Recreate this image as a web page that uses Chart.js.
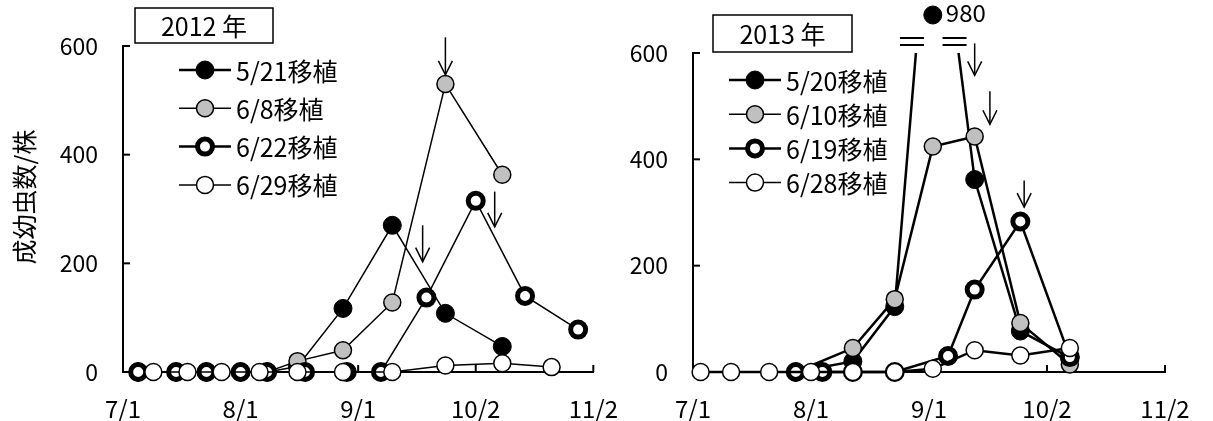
<!DOCTYPE html>
<html>
<head>
<meta charset="utf-8">
<script src="https://cdn.jsdelivr.net/npm/chart.js@4.4.0/dist/chart.umd.min.js"></script>
<style>
  body { margin: 0; background: #fff; width: 1213px; height: 421px; position: relative; overflow: hidden; }
  canvas { position: absolute; top: 0; }
  #c2012 { left: 0; }
  #c2013 { left: 600px; }
</style>
</head>
<body>
<canvas id="c2012" width="640" height="421"></canvas>
<canvas id="c2013" width="613" height="421"></canvas>
<script>
// axis
const tickDates = ['7/1', '8/1', '9/1', '10/2', '11/2'];
const yTicks = [0, 200, 400, 600];
const yTitle = '成幼虫数/株';

// 2012
const year2012 = '2012 年';
const labels2012 = ['5/21移植', '6/8移植', '6/22移植', '6/29移植'];
const dates2012_0521 = ['7/5', '7/15', '7/23', '8/1', '8/8', '8/16', '8/28', '9/10', '9/24', '10/9'];
const vals2012_0521 = [0, 0, 0, 0, 0, 10, 117, 270, 108, 47];
const dates2012_0608 = ['7/5', '7/15', '7/23', '8/1', '8/8', '8/16', '8/28', '9/10', '9/24', '10/9'];
const vals2012_0608 = [0, 0, 0, 0, 0, 20, 40, 128, 530, 363];
const dates2012_0622 = ['7/5', '7/15', '7/23', '8/1', '8/8', '8/18', '8/29', '9/7', '9/19', '10/2', '10/15', '10/29'];
const vals2012_0622 = [0, 0, 0, 0, 0, 0, 0, 0, 137, 315, 140, 78];
const dates2012_0629 = ['7/9', '7/18', '7/27', '8/6', '8/16', '8/28', '9/10', '9/24', '10/9', '10/22'];
const vals2012_0629 = [0, 0, 0, 0, 0, 0, 0, 12, 16, 9];
const arrows2012 = [
  { date: '9/24', from: 616, to: 547 },
  { date: '9/18', from: 270, to: 203 },
  { date: '10/7', from: 332, to: 267 }
];

// 2013
const year2013 = '2013 年';
const labels2013 = ['5/20移植', '6/10移植', '6/19移植', '6/28移植'];
const dates2013_0520 = ['7/28', '8/12', '8/23', '9/2', '9/13', '9/25', '10/8'];
const vals2013_0520 = [0, 20, 123, 980, 362, 77, 27];
const dates2013_0610 = ['7/28', '8/12', '8/23', '9/2', '9/13', '9/25', '10/8'];
const vals2013_0610 = [0, 45, 137, 424, 443, 92, 14];
const dates2013_0619 = ['7/28', '8/4', '8/12', '8/23', '9/6', '9/13', '9/25', '10/8'];
const vals2013_0619 = [0, 0, 0, 0, 30, 155, 283, 28];
const dates2013_0628 = ['7/3', '7/11', '7/21', '8/1', '8/12', '8/23', '9/2', '9/13', '9/25', '10/8'];
const vals2013_0628 = [0, 0, 0, 0, 0, 0, 6, 41, 31, 45];
const arrows2013 = [
  { date: '9/13', from: 618, to: 558 },
  { date: '9/17', from: 528, to: 466 },
  { date: '9/26', from: 360, to: 310 }
];

const FONT = "'Noto Sans CJK JP', 'Noto Sans', sans-serif";
Chart.defaults.font.family = FONT;
Chart.defaults.color = '#000';

// days since 7/1
function dayOf(s) {
  const [m, d] = s.split('/').map(Number);
  return (Date.UTC(2000, m - 1, d) - Date.UTC(2000, 6, 1)) / 864e5;
}
const tickDays = tickDates.map(dayOf);

// marker looks: filled black, grey, thick ring, open
const markerStyles = [
  { bg: '#000', border: '#000', bw: 1, r: 9 },
  { bg: '#c0c0c0', border: '#000', bw: 1.5, r: 8.5 },
  { bg: '#fff', border: '#000', bw: 5, r: 7.5 },
  { bg: '#fff', border: '#000', bw: 1.5, r: 8.5 }
];

function makeDataset(label, dates, vals, i, lineW) {
  const s = markerStyles[i];
  return {
    label: label,
    data: dates.map((d, k) => ({ x: dayOf(d), y: vals[k] })),
    borderColor: '#000',
    borderWidth: lineW,
    backgroundColor: s.bg,
    pointBackgroundColor: s.bg,
    pointBorderColor: s.border,
    pointBorderWidth: s.bw,
    pointRadius: s.r,
    pointHoverRadius: s.r,
    tension: 0,
    order: 4 - i,
    clip: { left: 20, right: 20, bottom: 20, top: 0 }
  };
}

function drawMarker(ctx, x, y, s) {
  ctx.beginPath();
  ctx.arc(x, y, s.r, 0, Math.PI * 2);
  ctx.fillStyle = s.bg;
  ctx.fill();
  ctx.lineWidth = s.bw;
  ctx.strokeStyle = s.border;
  ctx.stroke();
}

const decor = {
  id: 'decor',
  beforeDatasetsDraw(chart, args, o) {
    const ctx = chart.ctx, xs = chart.scales.x, ys = chart.scales.y;
    ctx.save();
    ctx.strokeStyle = '#000';
    ctx.lineWidth = 2;
    // inward tick marks
    tickDays.forEach(v => {
      const x = xs.getPixelForValue(v);
      ctx.beginPath(); ctx.moveTo(x, ys.bottom); ctx.lineTo(x, ys.bottom - 7); ctx.stroke();
    });
    yTicks.forEach(v => {
      const y = ys.getPixelForValue(v);
      ctx.beginPath(); ctx.moveTo(xs.left, y); ctx.lineTo(xs.left + 7, y); ctx.stroke();
    });
    ctx.restore();
  },
  afterDatasetsDraw(chart, args, o) {
    const ctx = chart.ctx, xs = chart.scales.x, ys = chart.scales.y, area = chart.chartArea;
    ctx.save();

    // values above the axis range: marker + value + break marks
    chart.data.datasets.forEach((ds, di) => {
      const meta = chart.getDatasetMeta(di);
      ds.data.forEach((p, k) => {
        if (p.y <= ys.max) return;
        const el = meta.data[k];
        const s = markerStyles[di];
        drawMarker(ctx, el.x, area.top - 38, s);
        ctx.fillStyle = '#000';
        ctx.font = '24px ' + FONT;
        ctx.textAlign = 'left';
        ctx.textBaseline = 'middle';
        ctx.fillText(String(p.y), el.x + 13, area.top - 40);
        [meta.data[k - 1], meta.data[k + 1]].forEach(nb => {
          if (!nb) return;
          const t = (area.top - nb.y) / (el.y - nb.y);
          const xi = nb.x + t * (el.x - nb.x) - 4;
          ctx.strokeStyle = '#000';
          ctx.lineWidth = 2;
          [area.top - 15, area.top - 8].forEach(yy => {
            ctx.beginPath(); ctx.moveTo(xi - 12, yy); ctx.lineTo(xi + 12, yy); ctx.stroke();
          });
        });
      });
    });

    // arrows
    ctx.strokeStyle = '#000';
    ctx.lineWidth = 1.5;
    o.arrows.forEach(a => {
      const x = xs.getPixelForValue(dayOf(a.date));
      const y1 = ys.getPixelForValue(a.from), y2 = ys.getPixelForValue(a.to);
      ctx.beginPath(); ctx.moveTo(x, y1); ctx.lineTo(x, y2); ctx.stroke();
      ctx.beginPath(); ctx.moveTo(x - 7, y2 - 14); ctx.lineTo(x, y2); ctx.lineTo(x + 7, y2 - 14); ctx.stroke();
    });

    // legend
    const lg = o.legend;
    chart.data.datasets.forEach((ds, i) => {
      const y = lg.y + i * lg.gap;
      ctx.strokeStyle = '#000';
      ctx.lineWidth = i === 0 || i === 2 ? 2.5 : 1.5;
      ctx.beginPath(); ctx.moveTo(lg.x - 26, y); ctx.lineTo(lg.x + 26, y); ctx.stroke();
      drawMarker(ctx, lg.x, y, markerStyles[i]);
      ctx.fillStyle = '#000';
      ctx.font = '25px ' + FONT;
      ctx.textAlign = 'left';
      ctx.textBaseline = 'middle';
      ctx.fillText(ds.label, lg.x + 31, y + 1);
    });

    // year box
    const b = o.box;
    ctx.lineWidth = 1.5;
    ctx.strokeRect(b.x, b.y, b.w, b.h);
    ctx.fillStyle = '#000';
    ctx.font = '25px ' + FONT;
    ctx.textAlign = 'center';
    ctx.textBaseline = 'middle';
    ctx.fillText(b.text, b.x + b.w / 2, b.y + b.h / 2 + 1);

    // y title
    if (o.title) {
      ctx.translate(o.title.x, o.title.y);
      ctx.rotate(-Math.PI / 2);
      ctx.fillText(yTitle, 0, 0);
    }
    ctx.restore();
  }
};

function makeChart(id, datasets, cfg) {
  new Chart(document.getElementById(id), {
    type: 'line',
    data: { datasets: datasets },
    options: {
      responsive: false,
      animation: false,
      devicePixelRatio: 1,
      layout: { padding: { top: cfg.top, right: cfg.right, left: 0, bottom: 0 } },
      scales: {
        x: {
          type: 'linear',
          min: 0,
          max: 124,
          afterBuildTicks: s => { s.ticks = tickDays.map(v => ({ value: v })); },
          afterFit: s => { s.height = cfg.xh; },
          ticks: {
            callback: v => tickDates[tickDays.indexOf(v)],
            font: { size: 24 },
            padding: 22,
            maxRotation: 0,
            autoSkip: false
          },
          grid: { drawOnChartArea: false, drawTicks: false },
          border: { color: '#000', width: 2 }
        },
        y: {
          min: 0,
          max: 600,
          afterBuildTicks: s => { s.ticks = yTicks.map(v => ({ value: v })); },
          afterFit: s => { s.width = cfg.yw; },
          ticks: { font: { size: 23 }, padding: 25 },
          grid: { drawOnChartArea: false, drawTicks: false },
          border: { color: '#000', width: 2 }
        }
      },
      plugins: {
        legend: { display: false },
        tooltip: { enabled: false },
        decor: cfg.decor
      }
    },
    plugins: [decor]
  });
}

makeChart('c2012', [
  makeDataset(labels2012[0], dates2012_0521, vals2012_0521, 0, 1.5),
  makeDataset(labels2012[1], dates2012_0608, vals2012_0608, 1, 1.5),
  makeDataset(labels2012[2], dates2012_0622, vals2012_0622, 2, 1.5),
  makeDataset(labels2012[3], dates2012_0629, vals2012_0629, 3, 1.5)
], {
  top: 46, right: 41, yw: 123, xh: 49,
  decor: {
    arrows: arrows2012,
    legend: { x: 205, y: 70, gap: 38.3 },
    box: { x: 135, y: 8, w: 138, h: 35, text: year2012 },
    title: { x: 24, y: 197 }
  }
});

makeChart('c2013', [
  makeDataset(labels2013[0], dates2013_0520, vals2013_0520, 0, 2.5),
  makeDataset(labels2013[1], dates2013_0610, vals2013_0610, 1, 2.5),
  makeDataset(labels2013[2], dates2013_0619, vals2013_0619, 2, 2.5),
  makeDataset(labels2013[3], dates2013_0628, vals2013_0628, 3, 2.5)
], {
  top: 53, right: 48, yw: 93, xh: 49,
  decor: {
    arrows: arrows2013,
    legend: { x: 155, y: 80, gap: 34.2 },
    box: { x: 113, y: 15, w: 139, h: 37, text: year2013 },
    title: null
  }
});
</script>
</body>
</html>
